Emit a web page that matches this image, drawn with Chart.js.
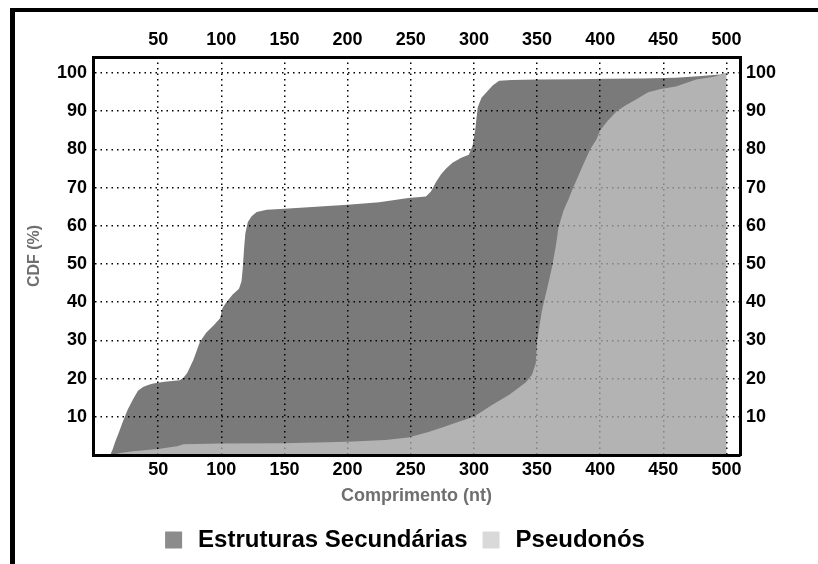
<!DOCTYPE html>
<html>
<head>
<meta charset="utf-8">
<script src="https://cdn.jsdelivr.net/npm/chart.js@4.4.1/dist/chart.umd.min.js"></script>
<style>
  html, body { margin: 0; padding: 0; background: #fff; }
  #wrap { position: relative; width: 818px; height: 564px; overflow: hidden; }
  #frame {
    position: absolute; left: 10px; top: 8px; right: -10px; bottom: -10px;
    border-left: 5px solid #000; border-top: 4px solid #000; pointer-events: none;
  }
</style>
</head>
<body>
<div id="wrap">
  <canvas id="cdfChart"></canvas>
  <div id="frame"></div>
</div>
<script>
// comprimento (nt) e CDF (%)
var esLen = [12, 14, 16, 19, 22, 26, 30, 34, 38, 42, 46, 55, 67, 70, 73, 78, 83, 88, 94, 99,
  101, 104, 109, 114, 116, 117, 118, 119, 121, 124, 128, 136, 150, 175, 200, 225, 248, 262, 266, 270,
  274, 278, 283, 290, 296, 299, 301, 303, 306, 310, 315, 320, 330, 350, 380, 407, 433, 460, 480, 495, 500];
var esCdf = [0, 1.5, 3.5, 6, 8.7, 12, 14.5, 16.8, 17.8, 18.3, 18.7, 19.2, 19.6, 20.2, 21.5, 25, 29.6, 32, 34, 35.8,
  38.5, 40, 42, 43.5, 45.5, 49, 54, 58, 61, 62.5, 63.6, 64.2, 64.5, 65, 65.5, 66.2, 67.3, 67.7, 69, 71.5,
  73.5, 75, 76.5, 77.8, 78.6, 81, 85, 91, 93.5, 95, 96.8, 98, 98.2, 98.3, 98.4, 98.5, 98.6, 98.8, 99.2, 99.6, 100];

var psLen = [13, 20, 30, 50, 65, 70, 100, 150, 200, 230, 248, 264, 276, 288, 300, 314, 328, 341, 346, 349,
  350, 352, 354, 359, 362, 365, 367, 371, 375, 378, 386, 392, 397, 400, 406, 413, 420, 428, 438, 448,
  460, 476, 490, 500];
var psCdf = [0, 0.5, 1, 1.6, 2.3, 2.8, 3, 3.1, 3.5, 3.9, 4.6, 6, 7.3, 8.7, 10, 13, 15.8, 19, 21, 24,
  29.6, 34, 38, 45, 49.4, 55, 59.6, 64, 67, 69.5, 75.6, 80, 82.6, 85, 87.5, 90, 91.5, 93, 95, 95.8,
  96.5, 98.3, 99, 100];

var seriesNames = ["Estruturas Secundárias", "Pseudonós"];
var xTicks = [50, 100, 150, 200, 250, 300, 350, 400, 450, 500];
var yTicks = [10, 20, 30, 40, 50, 60, 70, 80, 90, 100];

function toPoints(xs, ys) {
  return xs.map(function (x, i) { return { x: x, y: ys[i] }; });
}

(function () {
  "use strict";

  Chart.defaults.font.family = "'Liberation Sans', Arial, Helvetica, sans-serif";
  Chart.defaults.font.weight = "bold";
  Chart.defaults.color = "#000";

  var legendBox = ["#8c8c8c", "#d9d9d9"];

  function fixTicks(list) {
    return function (scale) {
      scale.ticks = list.map(function (v) { return { value: v }; });
    };
  }
  function fixSize(prop, v) {
    return function (scale) { scale[prop] = v; };
  }

  var tickFont = { size: 18, weight: "bold" };

  new Chart(document.getElementById("cdfChart"), {
    type: "line",
    data: {
      datasets: [
        {
          label: seriesNames[0],
          data: toPoints(esLen, esCdf),
          backgroundColor: "rgba(0, 0, 0, 0.52)",
          borderWidth: 0,
          pointRadius: 0,
          fill: "origin",
          order: 2,
        },
        {
          label: seriesNames[1],
          data: toPoints(psLen, psCdf),
          backgroundColor: "rgba(217, 217, 217, 0.6)",
          borderWidth: 0,
          pointRadius: 0,
          fill: "origin",
          order: 1,
        },
      ],
    },
    options: {
      responsive: true,
      maintainAspectRatio: false,
      animation: false,
      events: [],
      layout: { padding: { left: 0, right: 12, top: 0, bottom: 1.5 } },
      plugins: {
        tooltip: { enabled: false },
        legend: {
          position: "bottom",
          labels: {
            font: { size: 24, weight: "bold" },
            color: "#000",
            boxWidth: 25,
            boxHeight: 25,
            padding: 11,
            generateLabels: function (chart) {
              return chart.data.datasets.map(function (ds, i) {
                return {
                  text: ds.label,
                  fillStyle: legendBox[i],
                  strokeStyle: "#fff",
                  lineWidth: 8,
                  fontColor: "#000",
                  hidden: false,
                  datasetIndex: i,
                };
              });
            },
          },
        },
      },
      scales: {
        x: {
          type: "linear",
          position: "bottom",
          min: -1.6,
          max: 510.7,
          afterBuildTicks: fixTicks(xTicks),
          afterFit: fixSize("height", 61.5),
          ticks: { font: tickFont, color: "#000", padding: 4, maxRotation: 0, autoSkip: false },
          grid: { color: "#000", lineWidth: 1.5, drawTicks: false },
          border: { display: true, color: "#000", width: 3, z: 1, dash: [1.5, 4] },
          title: {
            display: true,
            text: "Comprimento (nt)",
            color: "#6f6f6f",
            font: { size: 18, weight: "bold" },
            padding: { top: 0, bottom: 9.7 },
          },
        },
        x2: {
          type: "linear",
          position: "top",
          min: -1.6,
          max: 510.7,
          afterBuildTicks: fixTicks(xTicks),
          afterFit: fixSize("height", 57),
          ticks: { font: tickFont, color: "#000", padding: 6, maxRotation: 0, autoSkip: false },
          grid: { display: false, drawTicks: false },
          border: { display: true, color: "#000", width: 3, z: 1 },
        },
        y: {
          type: "linear",
          position: "left",
          min: 0,
          max: 104.2,
          afterBuildTicks: fixTicks(yTicks),
          afterFit: fixSize("width", 93),
          ticks: { font: tickFont, color: "#000", padding: 6, autoSkip: false },
          grid: { color: "#000", lineWidth: 1.5, drawTicks: false },
          border: { display: true, color: "#000", width: 3, z: 1, dash: [1.5, 4] },
          title: {
            display: true,
            text: "CDF (%)",
            color: "#6f6f6f",
            font: { size: 16, weight: "bold" },
            padding: { top: 25, bottom: 0 },
          },
        },
        y2: {
          type: "linear",
          position: "right",
          min: 0,
          max: 104.2,
          afterBuildTicks: fixTicks(yTicks),
          afterFit: fixSize("width", 66),
          ticks: { font: tickFont, color: "#000", padding: 6, autoSkip: false },
          grid: { display: false, drawTicks: false },
          border: { display: true, color: "#000", width: 3, z: 1 },
        },
      },
    },
  });
})();
</script>
</body>
</html>
